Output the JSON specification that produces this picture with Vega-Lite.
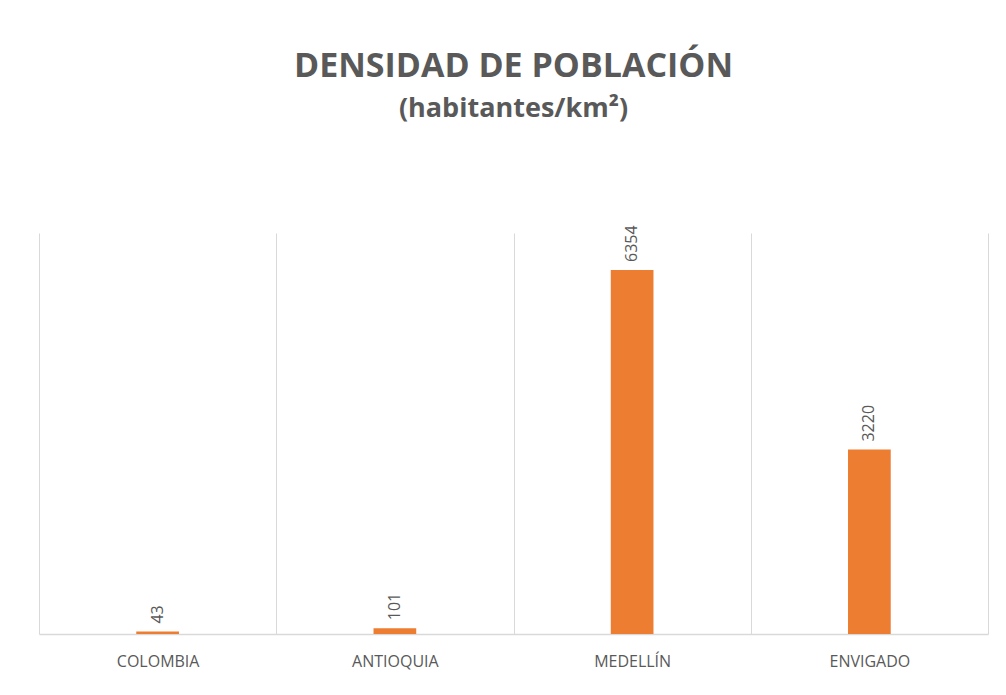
{
  "$schema": "https://vega.github.io/schema/vega-lite/v6.json",
  "width": 949,
  "height": 401,
  "autosize": {"type": "none"},
  "padding": {"left": 39, "top": 233, "right": 18, "bottom": 61},
  "background": "white",
  "config": {"view": {"stroke": null}, "font": "Open Sans"},
  "title": {
    "text": "DENSIDAD DE POBLACIÓN",
    "subtitle": "(habitantes/km²)",
    "anchor": "middle",
    "font": "Open Sans",
    "fontSize": 34,
    "fontWeight": "bold",
    "color": "#595959",
    "subtitleFont": "Open Sans",
    "subtitleFontSize": 27,
    "subtitleFontWeight": "bold",
    "subtitleColor": "#595959",
    "subtitlePadding": 12,
    "offset": 103
  },
  "data": {
    "values": [
      {"lugar": "COLOMBIA", "densidad": 43},
      {"lugar": "ANTIOQUIA", "densidad": 101},
      {"lugar": "MEDELLÍN", "densidad": 6354},
      {"lugar": "ENVIGADO", "densidad": 3220}
    ]
  },
  "encoding": {
    "x": {
      "field": "lugar",
      "type": "nominal",
      "sort": null,
      "scale": {"paddingInner": 0, "paddingOuter": 0},
      "axis": {
        "title": null,
        "labelAngle": 0,
        "labelFontSize": 16,
        "labelColor": "#595959",
        "labelPadding": 19,
        "ticks": false,
        "domainColor": "#D9D9D9",
        "domainWidth": 1.5,
        "grid": true,
        "gridColor": "#D9D9D9",
        "gridWidth": 1,
        "tickBand": "extent"
      }
    },
    "y": {
      "field": "densidad",
      "type": "quantitative",
      "scale": {"domain": [0, 7000], "nice": false},
      "axis": null
    }
  },
  "layer": [
    {"mark": {"type": "bar", "color": "#ED7D31", "width": {"band": 0.18}}},
    {
      "mark": {"type": "text", "angle": 270, "align": "left", "baseline": "middle", "dx": 8, "fontSize": 16, "color": "#595959"},
      "encoding": {"text": {"field": "densidad", "type": "quantitative", "format": "d"}}
    }
  ]
}
